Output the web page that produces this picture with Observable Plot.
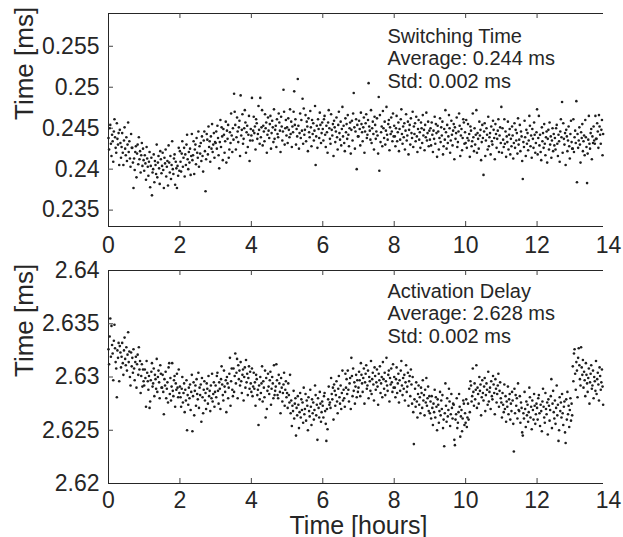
<!DOCTYPE html>
<html><head><meta charset="utf-8">
<script src="https://cdn.jsdelivr.net/npm/d3@7"></script>
<script src="https://cdn.jsdelivr.net/npm/@observablehq/plot@0.6"></script>
<style>
body{margin:0;background:#fff;}
#chart{width:623px;height:537px;overflow:hidden;}
#chart svg{display:block;}
</style></head><body><div id="chart"></div>
<script>
// One measurement per minute (time axis in hours)
const sampleIntervalHours = 1 / 60;
const xTicks = [0, 2, 4, 6, 8, 10, 12, 14];
const xInnerTicks = [2, 4, 6, 8, 10, 12];
const xDataEnd = 13.86;
const switchingTicks = [0.235, 0.24, 0.245, 0.25, 0.255];
const switchingDomain = [0.233, 0.259];
const delayTicks = [2.62, 2.625, 2.63, 2.635, 2.64];
const delayInnerTicks = [2.625, 2.63, 2.635];
const delayDomain = [2.62, 2.64];
const switchingText = "Switching Time\nAverage: 0.244 ms\nStd: 0.002 ms";
const delayText = "Activation Delay\nAverage: 2.628 ms\nStd: 0.002 ms";
const yLabel = "Time [ms]";
const xLabel = "Time [hours]";

// Switching time (ms), one value per minute
const switchingTime = [
0.2438,0.2424,0.2450,0.2454,0.2431,0.2416,0.2442,0.2434,0.2409,0.2446,0.2461,0.2439,0.2426,0.2420,0.2456,0.2437,0.2430,0.2444,0.2405,0.2448,
0.2432,0.2414,0.2427,0.2444,0.2420,0.2405,0.2435,0.2451,0.2425,0.2417,0.2439,0.2410,0.2430,0.2457,0.2421,0.2434,0.2413,0.2403,0.2443,0.2426,
0.2426,0.2408,0.2377,0.2413,0.2399,0.2421,0.2428,0.2390,0.2419,0.2430,0.2406,0.2439,0.2412,0.2422,0.2396,0.2417,0.2432,0.2404,0.2425,0.2411,
0.2398,0.2417,0.2407,0.2387,0.2427,0.2413,0.2403,0.2392,0.2409,0.2421,0.2378,0.2404,0.2414,0.2368,0.2396,0.2400,0.2418,0.2384,0.2410,0.2405,
0.2394,0.2430,0.2390,0.2408,0.2416,0.2401,0.2382,0.2422,0.2412,0.2395,0.2404,0.2420,0.2399,0.2377,0.2414,0.2407,0.2424,0.2391,0.2403,0.2410,
0.2380,0.2429,0.2408,0.2396,0.2416,0.2388,0.2405,0.2434,0.2400,0.2394,0.2413,0.2418,0.2381,0.2409,0.2401,0.2377,0.2404,0.2392,0.2426,0.2398,
0.2422,0.2409,0.2397,0.2419,0.2434,0.2403,0.2414,0.2426,0.2391,0.2418,0.2405,0.2430,0.2442,0.2412,0.2400,0.2421,0.2408,0.2425,0.2393,0.2416,
0.2443,0.2411,0.2417,0.2434,0.2394,0.2424,0.2430,0.2406,0.2438,0.2420,0.2414,0.2446,0.2403,0.2428,0.2419,0.2432,0.2410,0.2440,0.2416,0.2397,
0.2435,0.2446,0.2422,0.2373,0.2412,0.2443,0.2436,0.2418,0.2452,0.2427,0.2434,0.2409,0.2440,0.2425,0.2455,0.2421,0.2430,0.2444,0.2414,0.2433,
0.2432,0.2446,0.2425,0.2453,0.2438,0.2417,0.2401,0.2433,0.2460,0.2427,0.2451,0.2440,0.2411,0.2449,0.2442,0.2420,0.2434,0.2458,0.2408,0.2447,
0.2437,0.2454,0.2414,0.2424,0.2445,0.2432,0.2468,0.2441,0.2421,0.2450,0.2436,0.2492,0.2470,0.2454,0.2424,0.2439,0.2463,0.2446,0.2433,0.2451,
0.2459,0.2416,0.2490,0.2441,0.2448,0.2467,0.2431,0.2437,0.2450,0.2472,0.2457,0.2420,0.2445,0.2453,0.2427,0.2442,0.2465,0.2410,0.2435,0.2449,
0.2441,0.2487,0.2435,0.2447,0.2464,0.2444,0.2452,0.2424,0.2461,0.2456,0.2437,0.2443,0.2477,0.2448,0.2431,0.2487,0.2439,0.2451,0.2472,0.2429,
0.2453,0.2446,0.2434,0.2467,0.2450,0.2457,0.2420,0.2442,0.2463,0.2447,0.2438,0.2455,0.2465,0.2425,0.2444,0.2459,0.2451,0.2433,0.2473,0.2437,
0.2448,0.2453,0.2427,0.2461,0.2443,0.2439,0.2468,0.2457,0.2447,0.2421,0.2464,0.2452,0.2435,0.2446,0.2497,0.2470,0.2430,0.2450,0.2460,0.2441,
0.2451,0.2432,0.2462,0.2448,0.2439,0.2473,0.2443,0.2458,0.2427,0.2452,0.2445,0.2470,0.2495,0.2454,0.2461,0.2430,0.2449,0.2440,0.2510,0.2453,
0.2425,0.2444,0.2468,0.2438,0.2460,0.2447,0.2486,0.2431,0.2474,0.2442,0.2448,0.2466,0.2434,0.2458,0.2452,0.2422,0.2462,0.2445,0.2439,0.2471,
0.2451,0.2428,0.2460,0.2443,0.2456,0.2435,0.2447,0.2477,0.2405,0.2440,0.2453,0.2426,0.2461,0.2449,0.2438,0.2469,0.2454,0.2432,0.2444,0.2457,
0.2449,0.2435,0.2461,0.2465,0.2442,0.2427,0.2453,0.2445,0.2420,0.2457,0.2472,0.2450,0.2437,0.2431,0.2467,0.2448,0.2441,0.2455,0.2416,0.2459,
0.2451,0.2433,0.2446,0.2463,0.2439,0.2424,0.2454,0.2470,0.2444,0.2436,0.2458,0.2429,0.2449,0.2476,0.2440,0.2453,0.2432,0.2422,0.2462,0.2445,
0.2455,0.2437,0.2466,0.2442,0.2428,0.2450,0.2457,0.2419,0.2448,0.2459,0.2435,0.2468,0.2493,0.2451,0.2425,0.2446,0.2461,0.2400,0.2454,0.2440,
0.2440,0.2459,0.2449,0.2429,0.2469,0.2455,0.2445,0.2434,0.2451,0.2463,0.2420,0.2446,0.2456,0.2467,0.2438,0.2442,0.2460,0.2505,0.2452,0.2447,
0.2436,0.2472,0.2432,0.2450,0.2458,0.2443,0.2424,0.2464,0.2454,0.2437,0.2446,0.2462,0.2441,0.2419,0.2488,0.2398,0.2466,0.2433,0.2445,0.2452,
0.2428,0.2471,0.2450,0.2438,0.2458,0.2430,0.2447,0.2476,0.2442,0.2436,0.2455,0.2460,0.2423,0.2451,0.2443,0.2463,0.2446,0.2434,0.2468,0.2440,
0.2453,0.2440,0.2428,0.2450,0.2465,0.2434,0.2445,0.2457,0.2422,0.2449,0.2436,0.2461,0.2473,0.2443,0.2431,0.2452,0.2439,0.2456,0.2424,0.2447,
0.2467,0.2435,0.2441,0.2458,0.2418,0.2448,0.2454,0.2430,0.2462,0.2444,0.2438,0.2470,0.2427,0.2452,0.2443,0.2456,0.2434,0.2464,0.2440,0.2421,
0.2449,0.2460,0.2436,0.2445,0.2426,0.2457,0.2450,0.2432,0.2466,0.2441,0.2448,0.2423,0.2454,0.2439,0.2469,0.2435,0.2444,0.2458,0.2428,0.2447,
0.2436,0.2450,0.2429,0.2457,0.2442,0.2421,0.2447,0.2437,0.2464,0.2431,0.2455,0.2444,0.2415,0.2453,0.2446,0.2424,0.2438,0.2462,0.2433,0.2451,
0.2441,0.2458,0.2418,0.2428,0.2449,0.2436,0.2472,0.2445,0.2425,0.2454,0.2432,0.2440,0.2466,0.2450,0.2420,0.2435,0.2459,0.2442,0.2429,0.2447,
0.2455,0.2412,0.2451,0.2437,0.2444,0.2463,0.2427,0.2433,0.2446,0.2468,0.2453,0.2416,0.2441,0.2449,0.2423,0.2438,0.2461,0.2457,0.2431,0.2445,
0.2432,0.2460,0.2426,0.2438,0.2455,0.2435,0.2443,0.2415,0.2452,0.2447,0.2428,0.2434,0.2468,0.2439,0.2422,0.2450,0.2430,0.2442,0.2472,0.2420,
0.2444,0.2437,0.2425,0.2458,0.2441,0.2448,0.2411,0.2433,0.2454,0.2438,0.2393,0.2446,0.2456,0.2416,0.2435,0.2450,0.2442,0.2424,0.2464,0.2428,
0.2439,0.2444,0.2418,0.2452,0.2434,0.2430,0.2459,0.2448,0.2438,0.2412,0.2455,0.2443,0.2426,0.2437,0.2447,0.2461,0.2421,0.2441,0.2451,0.2432,
0.2476,0.2420,0.2450,0.2436,0.2427,0.2461,0.2431,0.2446,0.2415,0.2440,0.2433,0.2458,0.2424,0.2442,0.2449,0.2418,0.2437,0.2428,0.2452,0.2441,
0.2413,0.2432,0.2456,0.2426,0.2448,0.2435,0.2444,0.2419,0.2462,0.2430,0.2436,0.2454,0.2422,0.2446,0.2440,0.2410,0.2388,0.2433,0.2427,0.2459,
0.2439,0.2416,0.2448,0.2431,0.2444,0.2423,0.2435,0.2465,0.2453,0.2428,0.2441,0.2414,0.2449,0.2437,0.2426,0.2457,0.2442,0.2420,0.2432,0.2445,
0.2473,0.2418,0.2438,0.2465,0.2429,0.2442,0.2421,0.2411,0.2451,0.2434,0.2444,0.2426,0.2455,0.2431,0.2417,0.2439,0.2446,0.2408,0.2437,0.2448,
0.2424,0.2457,0.2430,0.2440,0.2414,0.2435,0.2450,0.2422,0.2443,0.2429,0.2438,0.2424,0.2450,0.2454,0.2431,0.2416,0.2442,0.2434,0.2409,0.2446,
0.2461,0.2439,0.2482,0.2420,0.2456,0.2437,0.2430,0.2444,0.2405,0.2448,0.2440,0.2422,0.2435,0.2452,0.2428,0.2413,0.2443,0.2459,0.2433,0.2425,
0.2425,0.2461,0.2421,0.2439,0.2447,0.2432,0.2483,0.2384,0.2443,0.2426,0.2435,0.2451,0.2430,0.2408,0.2445,0.2438,0.2455,0.2422,0.2434,0.2441,
0.2417,0.2460,0.2439,0.2427,0.2383,0.2419,0.2436,0.2465,0.2431,0.2425,0.2444,0.2449,0.2412,0.2440,0.2432,0.2452,0.2435,0.2431,0.2465,0.2437,
0.2437,0.2456,0.2446,0.2426,0.2466,0.2452,0.2442,0.2431,0.2448,0.2460,0.2417,0.2443
];

// Activation delay (ms), one value per minute
const activationDelay = [
2.6326,2.6312,2.6338,2.6355,2.6319,2.6348,2.6330,2.6322,2.6297,2.6334,2.6349,2.6327,2.6314,2.6308,2.6281,2.6325,2.6318,2.6332,
2.6296,2.6329,2.6323,2.6309,2.6319,2.6332,2.6313,2.6302,2.6325,2.6337,2.6317,2.6311,2.6328,2.6306,2.6321,2.6342,2.6314,2.6324,
2.6300,2.6292,2.6323,2.6310,2.6318,2.6304,2.6326,2.6308,2.6297,2.6314,2.6319,2.6290,2.6312,2.6321,2.6302,2.6328,2.6307,2.6315,
2.6285,2.6301,2.6312,2.6291,2.6307,2.6296,
2.6292,2.6307,2.6299,2.6272,2.6315,2.6304,2.6296,2.6288,2.6301,2.6271,2.6277,2.6297,2.6305,2.6313,2.6291,2.6294,2.6308,2.6282,2.6302,2.6298,
2.6289,2.6317,2.6286,2.6300,2.6306,2.6295,2.6280,2.6311,2.6303,2.6290,2.6290,2.6302,2.6286,2.6265,2.6298,2.6292,2.6305,2.6280,2.6289,2.6295,
2.6276,2.6309,2.6313,2.6284,2.6299,2.6278,2.6291,2.6313,2.6287,2.6282,2.6297,2.6301,2.6272,2.6294,2.6288,2.6303,2.6290,2.6281,2.6307,2.6285,
2.6291,2.6281,2.6272,2.6289,2.6300,2.6276,2.6285,2.6294,2.6267,2.6288,2.6278,2.6297,2.6250,2.6283,2.6274,2.6290,2.6280,2.6293,2.6269,2.6286,
2.6302,2.6249,2.6282,2.6295,2.6264,2.6287,2.6292,2.6273,2.6298,2.6284,2.6279,2.6304,2.6271,2.6290,2.6283,2.6293,2.6258,2.6299,2.6281,2.6266,
2.6288,2.6296,2.6278,2.6285,2.6270,2.6294,2.6289,2.6275,2.6301,2.6282,2.6287,2.6268,2.6292,2.6280,2.6303,2.6277,2.6284,2.6295,2.6272,2.6286,
2.6292,2.6281,2.6301,2.6304,2.6287,2.6275,2.6295,2.6289,2.6270,2.6298,2.6310,2.6293,2.6283,2.6278,2.6306,2.6291,2.6286,2.6297,2.6267,2.6300,
2.6294,2.6280,2.6290,2.6303,2.6318,2.6273,2.6296,2.6308,2.6288,2.6282,2.6308,2.6286,2.6301,2.6322,2.6294,2.6304,2.6317,2.6280,2.6311,2.6298,
2.6306,2.6292,2.6314,2.6296,2.6285,2.6302,2.6307,2.6278,2.6300,2.6309,2.6290,2.6316,2.6295,2.6303,2.6283,2.6299,2.6310,2.6289,2.6305,2.6294,
2.6286,2.6308,2.6282,2.6291,2.6304,2.6289,2.6295,2.6273,2.6302,2.6298,2.6283,2.6288,2.6255,2.6292,2.6279,2.6300,2.6285,2.6294,2.6310,2.6277,
2.6296,2.6290,2.6281,2.6306,2.6262,2.6299,2.6270,2.6287,2.6303,2.6291,2.6284,2.6297,2.6305,2.6274,2.6289,2.6300,2.6294,2.6280,2.6311,2.6283,
2.6287,2.6291,2.6312,2.6297,2.6283,2.6280,2.6302,2.6294,2.6286,2.6266,2.6299,2.6290,2.6277,2.6285,2.6293,2.6304,2.6273,2.6288,2.6296,2.6281,
2.6285,2.6271,2.6294,2.6283,2.6276,2.6302,2.6266,2.6278,2.6254,2.6273,2.6268,2.6287,2.6261,2.6275,2.6280,2.6245,2.6271,2.6264,2.6282,2.6274,
2.6252,2.6267,2.6285,2.6262,2.6279,2.6269,2.6276,2.6257,2.6290,2.6265,2.6270,2.6284,2.6259,2.6278,2.6273,2.6250,2.6281,2.6268,2.6263,2.6288,
2.6272,2.6255,2.6279,2.6266,2.6276,2.6260,2.6269,2.6292,2.6283,2.6264,2.6274,2.6241,2.6280,2.6271,2.6262,2.6286,2.6275,2.6258,2.6267,2.6277,
2.6273,2.6262,2.6282,2.6285,2.6268,2.6256,2.6240,2.6270,2.6251,2.6279,2.6291,2.6274,
2.6276,2.6271,2.6299,2.6284,2.6279,2.6290,2.6260,2.6293,2.6287,2.6273,2.6283,2.6296,2.6277,2.6266,2.6289,2.6301,2.6281,2.6275,2.6292,2.6270,2.6285,2.6306,2.6278,2.6288,
2.6280,2.6272,2.6303,2.6290,2.6298,2.6284,2.6306,2.6288,2.6277,2.6294,2.6299,2.6270,2.6318,2.6301,2.6282,2.6308,2.6287,2.6295,2.6275,2.6291,2.6302,2.6281,2.6297,2.6286,
2.6290,2.6305,2.6297,2.6282,2.6313,2.6302,2.6294,2.6286,2.6299,2.6308,2.6275,2.6295,2.6303,2.6311,2.6289,2.6292,2.6306,2.6280,2.6300,2.6296,
2.6287,2.6315,2.6284,2.6298,2.6304,2.6293,2.6278,2.6309,2.6301,2.6288,2.6295,2.6307,2.6291,2.6274,2.6303,2.6297,2.6310,2.6285,2.6294,2.6300,
2.6281,2.6314,2.6298,2.6289,2.6304,2.6283,2.6296,2.6318,2.6292,2.6287,2.6302,2.6306,2.6277,2.6299,2.6293,2.6308,2.6295,2.6286,2.6312,2.6290,
2.6300,2.6290,2.6281,2.6298,2.6309,2.6285,2.6294,2.6303,2.6276,2.6297,2.6287,2.6306,2.6315,2.6292,2.6283,2.6299,2.6289,2.6302,2.6278,2.6295,
2.6311,2.6286,2.6291,2.6304,2.6273,2.6296,2.6301,2.6282,2.6307,2.6293,2.6275,2.6300,2.6267,2.6237,2.6279,2.6289,2.6272,2.6295,2.6277,2.6262,
2.6284,2.6292,2.6274,2.6281,2.6266,2.6290,2.6285,2.6271,2.6297,2.6278,2.6283,2.6264,2.6288,2.6276,2.6299,2.6273,2.6280,2.6291,2.6268,2.6282,
2.6266,2.6277,2.6261,2.6282,2.6271,2.6255,2.6275,2.6267,2.6288,2.6262,2.6281,2.6272,2.6250,2.6279,2.6274,2.6257,2.6268,2.6286,2.6264,2.6278,
2.6270,2.6283,2.6252,2.6260,2.6235,2.6266,2.6294,2.6273,2.6258,2.6280,2.6263,2.6269,2.6289,2.6277,2.6254,2.6265,2.6284,2.6271,2.6261,2.6275,
2.6274,2.6241,2.6236,2.6260,2.6265,2.6280,2.6252,2.6257,2.6267,2.6284,2.6272,2.6244,2.6263,2.6269,2.6249,2.6261,2.6278,2.6275,2.6255,2.6266,
2.6257,2.6279,2.6253,2.6262,2.6275,2.6260,2.6289,2.6267,2.6296,2.6292,2.6277,2.6282,2.6308,2.6286,2.6273,2.6294,2.6279,2.6288,2.6311,2.6271,
2.6290,2.6284,2.6275,2.6300,2.6287,2.6293,2.6264,2.6281,2.6297,2.6285,2.6278,2.6291,2.6299,2.6268,2.6283,2.6294,2.6288,2.6274,2.6305,2.6277,
2.6286,2.6290,2.6270,2.6296,2.6282,2.6279,2.6301,2.6293,2.6285,2.6265,2.6298,2.6289,2.6276,2.6284,2.6292,2.6303,2.6272,2.6287,2.6295,2.6280,
2.6276,2.6262,2.6285,2.6274,2.6267,2.6293,2.6270,2.6282,2.6258,2.6277,2.6272,2.6291,2.6265,2.6279,2.6284,2.6260,2.6275,2.6268,2.6286,2.6278,
2.6256,2.6230,2.6289,2.6266,2.6283,2.6273,2.6280,2.6261,2.6294,2.6269,2.6268,2.6282,2.6257,2.6276,2.6271,2.6248,2.6245,2.6266,2.6261,2.6286,
2.6270,2.6253,2.6277,2.6264,2.6274,2.6258,2.6267,2.6290,2.6281,2.6262,2.6272,2.6251,2.6278,2.6269,2.6260,2.6284,2.6273,2.6256,2.6265,2.6275,
2.6271,2.6260,2.6280,2.6283,2.6266,2.6254,2.6274,2.6268,2.6249,2.6277,2.6289,2.6272,2.6262,2.6257,2.6285,2.6270,2.6265,2.6276,2.6246,2.6279,
2.6273,2.6259,2.6269,2.6282,2.6298,2.6252,2.6275,2.6287,2.6267,2.6261,2.6278,2.6256,2.6271,2.6292,2.6264,2.6274,2.6240,2.6250,2.6281,2.6268,
2.6276,2.6262,2.6284,2.6266,2.6255,2.6272,2.6277,2.6248,2.6238,2.6279,2.6260,2.6286,2.6265,2.6273,2.6253,2.6269,2.6280,2.6259,2.6275,2.6264,
2.6310,2.6296,2.6322,2.6326,2.6303,2.6288,2.6314,2.6306,2.6281,2.6318,2.6327,2.6311,2.6298,2.6292,2.6328,2.6309,2.6302,2.6316,
2.6290,2.6305,2.6297,2.6282,2.6313,2.6302,2.6294,2.6286,2.6299,2.6308,2.6275,2.6295,2.6303,2.6311,2.6289,2.6292,2.6306,2.6280,
2.6300,2.6296,2.6287,2.6315,2.6284,2.6298,2.6304,2.6293,2.6278,2.6309,2.6301,2.6288,2.6295,2.6307,2.6291,2.6274
];

const ink = "#262626";
const font = "'Liberation Sans', Arial, Helvetica, sans-serif";
const plotW = 500;

function panel({values, domain, ticks, innerYTicks, note, noteDy, height, marginTop, marginBottom, xPad, withXLabel}) {
  const plotH = height - marginTop - marginBottom;
  const marks = [
    Plot.axisY({ticks, tickSize: 0, tickPadding: 9, tickFormat: d => String(d), label: null, fontSize: 23}),
    Plot.axisX({ticks: xTicks, tickSize: 0, tickPadding: xPad, tickFormat: d => String(d), label: null, fontSize: 23}),
    Plot.ruleY([domain[1]], {x1: 0, x2: xDataEnd, stroke: ink}),
    Plot.ruleY([domain[0]], {x1: 0, x2: xDataEnd, stroke: ink}),
    Plot.ruleX([0], {stroke: ink}),
    Plot.ruleX(xInnerTicks, {insetBottom: plotH - 5, stroke: "#444"}),
    Plot.ruleX(xInnerTicks, {insetTop: plotH - 5, stroke: "#444"}),
    Plot.ruleY(innerYTicks, {insetRight: plotW - 5, stroke: "#444"}),
    Plot.dot(values, {x: (d, i) => i * sampleIntervalHours, y: d => d, r: 1.3, fill: "#1e1e1e", stroke: null}),
    Plot.text([note], {frameAnchor: "top-left", dx: 279, dy: noteDy, textAnchor: "start", lineAnchor: "top", lineHeight: 1.12, fontSize: 20, fill: ink}),
    Plot.text([yLabel], {frameAnchor: "left", dx: -84, rotate: -90, lineAnchor: "middle", fontSize: 26, fill: ink})
  ];
  if (withXLabel) marks.push(Plot.text([xLabel], {frameAnchor: "bottom", lineAnchor: "middle", dy: 42, fontSize: 25, fill: ink}));
  return Plot.plot({
    width: 623, height, marginLeft: 108, marginRight: 15, marginTop, marginBottom,
    style: {fontFamily: font, fontSize: "23px", color: ink, background: "white", overflow: "visible"},
    x: {domain: [0, 14]},
    y: {domain},
    marks
  });
}

const chart = document.getElementById("chart");
chart.append(panel({values: switchingTime, domain: switchingDomain, ticks: switchingTicks, innerYTicks: switchingTicks,
  note: switchingText, noteDy: 13.5, height: 257, marginTop: 13, marginBottom: 31, xPad: 10, withXLabel: false}));
chart.append(panel({values: activationDelay, domain: delayDomain, ticks: delayTicks, innerYTicks: delayInnerTicks,
  note: delayText, noteDy: 11.5, height: 280, marginTop: 13, marginBottom: 54, xPad: 8, withXLabel: true}));
</script>
</body></html>
